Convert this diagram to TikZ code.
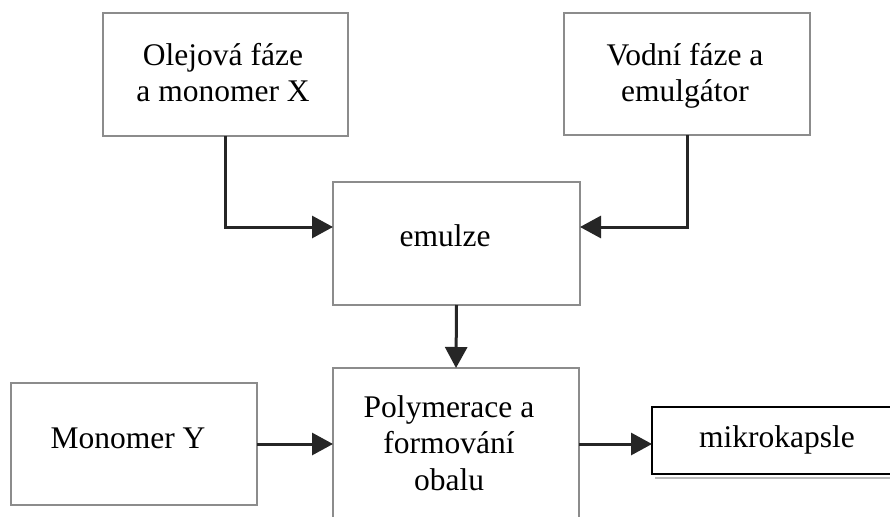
\documentclass[tikz,border=0pt]{standalone}
\usepackage{fontspec}
\setmainfont{Liberation Serif}
\usetikzlibrary{arrows.meta}
\definecolor{boxgray}{HTML}{8C8C8C}
\definecolor{arrowdark}{HTML}{262626}
\tikzset{
  box/.style={draw=boxgray, line width=2pt, inner sep=0pt, outer sep=0pt, rectangle},
  blackbox/.style={draw=black, line width=2pt, inner sep=0pt, outer sep=0pt, rectangle, fill=white},
  label text/.style={inner sep=0pt, outer sep=0pt, align=center, font=\fontsize{31.5}{36.5}\selectfont},
  flow/.style={draw=arrowdark, line width=3pt, -{Triangle[length=21pt,width=22pt]}},
}
\begin{document}
\begin{tikzpicture}[x=1pt,y=-1pt]
\useasboundingbox (0,0) rectangle (890,516);
\fill[white] (0,0) rectangle (890,516);
\clip (0,0) rectangle (890,516);
% boxes
\node[box, minimum width=245pt, minimum height=123pt] (olej) at (225.5,74.5) {};
\node[box, minimum width=246pt, minimum height=122pt] (vodni) at (687,74) {};
\node[box, minimum width=247pt, minimum height=123pt] (emul) at (456.5,243.5) {};
\node[box, minimum width=246pt, minimum height=172pt] (poly) at (456,454) {};
\node[box, minimum width=246pt, minimum height=122pt] (mono) at (134,444) {};
\draw[boxgray!60, line width=2pt] (655,478) -- (900,478);
\node[blackbox, minimum width=248pt, minimum height=67pt] (mikro) at (776,440.5) {};
% texts (base anchor = baseline of the last line)
\node[label text, anchor=base] (tolej) at (223,102) {Olejová fáze\\a monomer X};
\node[label text, anchor=base] (tvodni) at (685,102) {Vodní fáze a\\emulgátor};
\node[label text, anchor=base] (temul) at (445,246) {emulze};
\node[label text, anchor=base] (tpoly) at (449,490) {Polymerace a\\formování\\obalu};
\node[label text, anchor=base] (tmono) at (128,448) {Monomer Y};
\node[label text, anchor=base] (tmikro) at (777,447) {mikrokapsle};
% connectors
\draw[flow] (olej.south) |- ([yshift=16.5pt]emul.west);
\draw[flow] (vodni.south) |- ([yshift=16.5pt]emul.east);
\draw[flow] (emul.south) -- (poly.north);
\draw[flow] (mono.east) -- (mono.east -| poly.west);
\draw[flow] (mono.east -| poly.east) -- (mono.east -| mikro.west);
\end{tikzpicture}
\end{document}
